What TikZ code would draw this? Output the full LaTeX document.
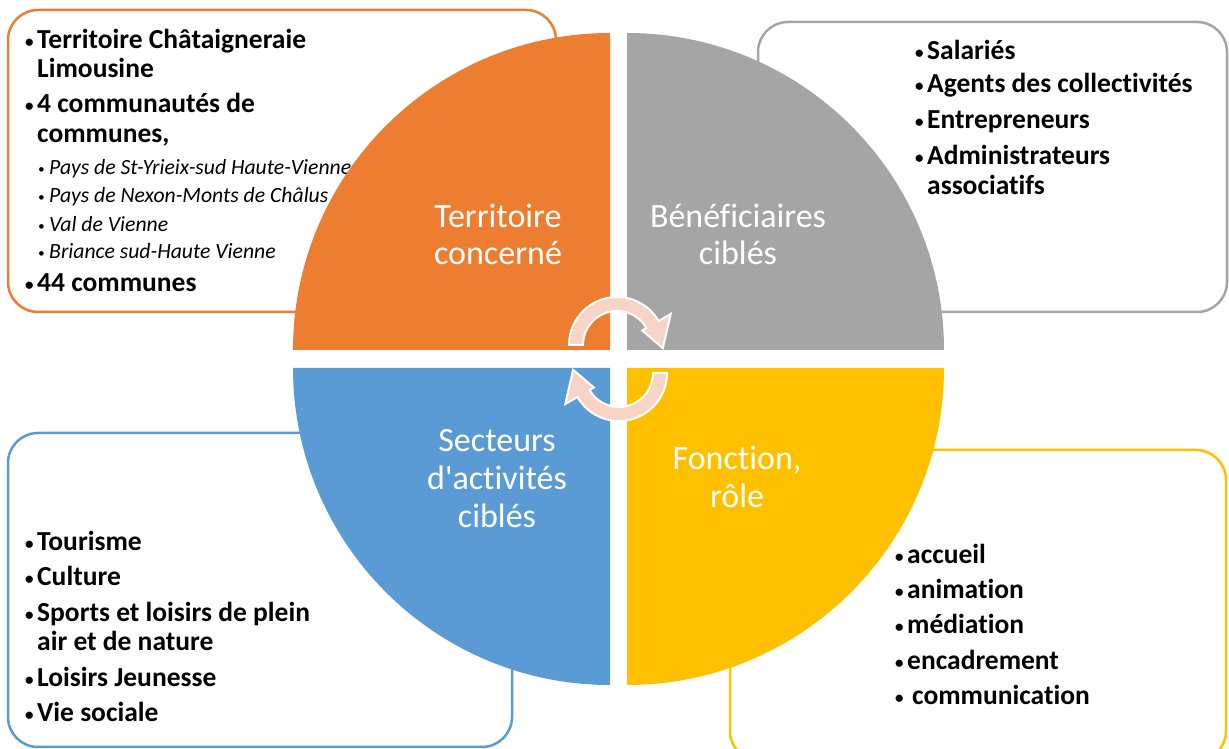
\documentclass[tikz,border=0pt]{standalone}
\usepackage{fontspec}
\setmainfont{Carlito}[Ligatures={TeX,NoCommon}]
\usepackage{xcolor}
\usepackage{tikz}

\definecolor{quadorange}{HTML}{ED7D31}
\definecolor{quadgray}{HTML}{A5A5A5}
\definecolor{quadblue}{HTML}{5B9BD5}
\definecolor{quadyellow}{HTML}{FFC000}
\definecolor{cyclepink}{HTML}{F8D4C6}

\newcommand{\pt}{\makebox[13pt][l]{\hspace{1pt}\raisebox{1.5pt}{\fontsize{17}{17}\selectfont •}}}
\newcommand{\spt}{\makebox[12pt][l]{\hspace{1pt}\raisebox{1pt}{\fontsize{13}{13}\selectfont •}}}

\tikzset{
  listbox/.style={rounded corners=30pt, line width=2.5pt, fill=white},
  item/.style={anchor=base west, inner sep=0pt, font=\bfseries\fontsize{27.5}{30}\selectfont},
  subitem/.style={anchor=base west, inner sep=0pt, font=\itshape\fontsize{21.7}{25}\selectfont},
  quadlabel/.style={anchor=base, inner sep=0pt, text=white, font=\fontsize{34}{38}\selectfont},
  turnarrow/.pic={
    \path[fill=cyclepink, draw=white, line width=2pt]
      (180:48) arc[start angle=180, end angle=30, radius=48pt]
      -- (30:62) -- (-4:46) -- (30:29) -- (30:34)
      arc[start angle=30, end angle=180, radius=34pt] -- cycle;
  }
}

\begin{document}
\begin{tikzpicture}[x=1pt, y=1pt]
    \useasboundingbox (0,0) rectangle (1229,749);

    % cadres
    \draw[listbox, draw=quadorange] (8,437) rectangle (556,739);
    \draw[listbox, draw=quadgray] (758,437) rectangle (1227,727);
    \draw[listbox, draw=quadblue] (8,2) rectangle (512,316);
    \draw[listbox, draw=quadyellow] (730,-12) rectangle (1226,299);

    % territoire
    \foreach \k/\x/\y/\t in {t1/24/700/{\pt Territoire Châtaigneraie},
                             t2/37/671/{Limousine},
                             t3/24/636/{\pt 4 communautés de},
                             t4/37/606/{communes,},
                             t9/24/457/{\pt 44 communes}} {
        \node (\k) at (\x, \y) [item] {\t};
    }
    \foreach \k/\y/\t in {t5/574/{Pays de St-Yrieix-sud Haute-Vienne},
                          t6/546/{Pays de Nexon-Monts de Châlus},
                          t7/517/{Val de Vienne},
                          t8/490/{Briance sud-Haute Vienne}} {
        \node (\k) at (37, \y) [subitem] {\spt\t};
    }

    % beneficiaires
    \foreach \k/\x/\y/\t in {b1/914/689/{\pt Salariés},
                             b2/914/656/{\pt Agents des collectivités},
                             b3/914/620/{\pt Entrepreneurs},
                             b4/914/584/{\pt Administrateurs},
                             b5/927/554/{associatifs}} {
        \node (\k) at (\x, \y) [item] {\t};
    }

    % secteurs
    \foreach \k/\x/\y/\t in {s1/24/198/{\pt Tourisme},
                             s2/24/163/{\pt Culture},
                             s3/24/127/{\pt Sports et loisirs de plein},
                             s4/37/98/{air et de nature},
                             s5/24/62/{\pt Loisirs Jeunesse},
                             s6/24/27/{\pt Vie sociale}} {
        \node (\k) at (\x, \y) [item] {\t};
    }

    % fonctions
    \foreach \k/\y/\t in {f1/185/{accueil}, f2/150/{animation}, f3/115/{médiation},
                          f4/79/{encadrement}, f5/44/{\hspace{5pt}communication}} {
        \node (\k) at (894, \y) [item] {\pt\t};
    }

    % quadrants
    \fill[quadorange] (610,399) -- ++(-317,0) arc[start angle=180, end angle=90, radius=317pt] -- cycle;
    \fill[quadgray] (627,399) -- ++(0,317) arc[start angle=90, end angle=0, radius=317pt] -- cycle;
    \fill[quadblue] (610,381) -- ++(-317,0) arc[start angle=180, end angle=270, radius=317pt] -- cycle;
    \fill[quadyellow] (627,381) -- ++(317,0) arc[start angle=0, end angle=-90, radius=317pt] -- cycle;

    \foreach \k/\x/\y/\t in {q1/498/521/{Territoire}, q2/498/484/{concerné},
                             q3/738/521/{Bénéficiaires}, q4/738/484/{ciblés},
                             q5/497/297/{Secteurs}, q6/497/259/{d\textquotesingle activités}, q7/497/221/{ciblés},
                             q8/737/279/{Fonction,}, q9/737/241/{rôle}} {
        \node (\k) at (\x, \y) [quadlabel] {\t};
    }

    % fleches
    \pic at (617,404) {turnarrow};
    \pic[rotate=180] at (619,376) {turnarrow};
\end{tikzpicture}
\end{document}
